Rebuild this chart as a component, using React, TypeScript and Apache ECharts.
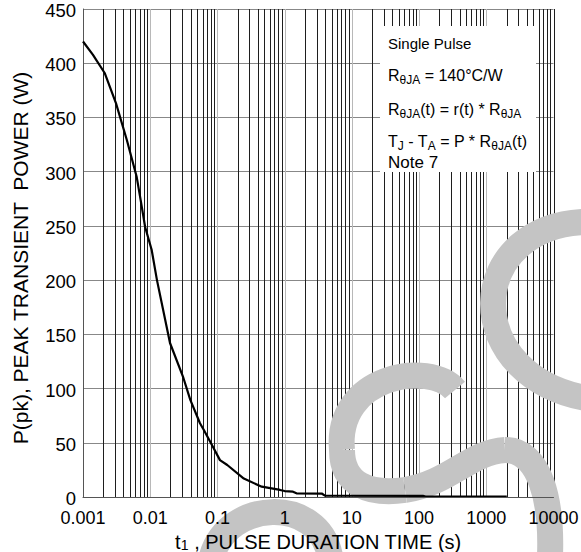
import React, { useEffect, useRef } from 'react';
import * as echarts from 'echarts';

// ---- data ----
const xTickValues = [0.001, 0.01, 0.1, 1, 10, 100, 1000, 10000];
const xTickLabels = ['0.001', '0.01', '0.1', '1', '10', '100', '1000', '10000'];
const yMin = 0;
const yMax = 450;
const yStep = 50;
const minorMultipliers = [2, 3, 4, 5, 6, 7, 8, 9];

const pulseTime = [
  0.001, 0.0014, 0.0021, 0.0031, 0.0045, 0.0063, 0.0072, 0.0084, 0.0105, 0.0126,
  0.0197, 0.0311, 0.0395, 0.055, 0.0625, 0.088, 0.109, 0.14, 0.247, 0.456,
  0.855, 1.0, 1.33, 1.5, 3.56, 3.97, 114, 125, 2020,
];
const peakPower = [
  420, 408, 391, 363, 329, 295, 274, 249, 228, 200,
  142, 110, 89.5, 68, 62, 45, 34, 29.5, 17, 9.5,
  6.5, 5.5, 4.9, 3.4, 3.2, 1.2, 1.0, 0.3, 0.3,
];

const legendLines = [
  '{h|Single Pulse}',
  '{b|R}{s|θJA}{b| = 140°C/W}',
  '{b|R}{s|θJA}{b|(t) = r(t) * R}{s|θJA}',
  '{b|T}{s|J}{b| - T}{s|A}{b| = P * R}{s|θJA}{b|(t)}',
  '{n|Note 7}',
];

const FONT = "'Liberation Sans', Arial, Helvetica, sans-serif";

export default function App() {
  const ref = useRef<HTMLDivElement>(null);

  useEffect(() => {
    document.body.style.margin = '0';
    if (!ref.current) return;
    const chart = echarts.init(ref.current, undefined, { renderer: 'svg' });

    // vertical grid lines: [value, kind] kind 1 = decade (light), 0 = minor/border (dark)
    const vLines: number[][] = [];
    for (let i = 0; i < xTickValues.length; i++) {
      const d = xTickValues[i];
      const isBorder = i === 0 || i === xTickValues.length - 1;
      if (!isBorder) vLines.push([d, 1]);
      else if (i === xTickValues.length - 1) vLines.push([d, 0]);
      if (i < xTickValues.length - 1) {
        minorMultipliers.forEach((m) => vLines.push([d * m, 0]));
      }
    }

    const curve = pulseTime.map((t, i) => [t, peakPower[i]]);

    const richLegend = {
      h: { fontSize: 15, lineHeight: 20, fontFamily: FONT, fill: '#000', color: '#000' },
      n: { fontSize: 17, lineHeight: 20, fontFamily: FONT, fill: '#000', color: '#000' },
      b: { fontSize: 16, lineHeight: 22, fontFamily: FONT, fill: '#000', color: '#000' },
      s: { fontSize: 12, lineHeight: 12, verticalAlign: 'bottom', fontFamily: FONT, fill: '#000', color: '#000' },
    };
    const legendY = [43, 75, 109, 141, 162];

    const wm = { stroke: '#c4c4c4', lineWidth: 26, fill: null, lineCap: 'butt' };

    chart.setOption({
      animation: false,
      backgroundColor: '#fff',
      grid: { left: 83, right: 27.5, top: 9, bottom: 55, outerBoundsMode: 'none', containLabel: false },
      xAxis: {
        type: 'log',
        logBase: 10,
        min: 0.001,
        max: 10000,
        z: 5,
        name: '{t|t}{s|1}{t| , PULSE DURATION TIME (s)}',
        nameLocation: 'middle',
        nameGap: 33,
        nameTextStyle: {
          rich: {
            t: { fontSize: 20, lineHeight: 20, fontFamily: FONT, color: '#000' },
            s: { fontSize: 14, lineHeight: 14, verticalAlign: 'bottom', fontFamily: FONT, color: '#000' },
          },
        },
        axisLine: { show: true, lineStyle: { color: '#555', width: 1 } },
        axisTick: { show: false },
        splitLine: { show: false },
        minorTick: { show: false },
        axisLabel: {
          fontSize: 18,
          fontFamily: FONT,
          color: '#000',
          margin: 12,
          showMinLabel: true,
          showMaxLabel: true,
          formatter: (v: number) => {
            const idx = xTickValues.findIndex((t) => Math.abs(Math.log10(t) - Math.log10(v)) < 1e-6);
            return idx >= 0 ? xTickLabels[idx] : '';
          },
        },
      },
      yAxis: {
        type: 'value',
        min: yMin,
        max: yMax,
        interval: yStep,
        name: 'P(pk), PEAK TRANSIENT  POWER (W)',
        nameLocation: 'middle',
        nameGap: 52,
        nameTextStyle: { fontSize: 21, fontFamily: FONT, color: '#000', padding: [0, 10, 0, 0] },
        axisLine: { show: true, lineStyle: { color: '#555', width: 1 } },
        axisTick: { show: false },
        splitLine: { show: true, lineStyle: { color: '#888', width: 1 } },
        axisLabel: {
          fontSize: 18.5,
          fontFamily: FONT,
          color: '#000',
          margin: 7,
          verticalAlign: 'top',
          lineHeight: 15,
          padding: [-6, 0, 0, 0],
        },
      },
      graphic: {
        elements: [
          { type: 'bezierCurve', z: 2, silent: true, shape: { x1: 600, y1: 222, cpx1: 460, cpy1: 215, cpx2: 455, cpy2: 385, x2: 600, y2: 400 }, style: wm },
          { type: 'bezierCurve', z: 2, silent: true, shape: { x1: 455, y1: 390, cpx1: 430, cpy1: 360, cpx2: 335, cpy2: 375, x2: 342, y2: 450 }, style: wm },
          { type: 'bezierCurve', z: 2, silent: true, shape: { x1: 342, y1: 450, cpx1: 342, cpy1: 485, cpx2: 370, cpy2: 495, x2: 405, y2: 490 }, style: wm },
          { type: 'bezierCurve', z: 2, silent: true, shape: { x1: 405, y1: 490, cpx1: 450, cpy1: 483, cpx2: 470, cpy2: 452, x2: 505, y2: 450 }, style: wm },
          { type: 'bezierCurve', z: 2, silent: true, shape: { x1: 505, y1: 450, cpx1: 540, cpy1: 450, cpx2: 552, cpy2: 500, x2: 550, y2: 556 }, style: wm },
          { type: 'bezierCurve', z: 2, silent: true, shape: { x1: 212, y1: 556, cpx1: 228, cpy1: 500, cpx2: 318, cpy2: 495, x2: 330, y2: 556 }, style: wm },
          { type: 'rect', z: 3, silent: true, shape: { x: 380, y: 26, width: 156, height: 146 }, style: { fill: '#fff' } },
          ...legendLines.map((txt, i) => ({
            type: 'text',
            z: 4,
            silent: true,
            style: {
              text: txt,
              x: 388,
              y: legendY[i],
              align: 'left',
              verticalAlign: 'middle',
              fill: '#000',
              fontFamily: FONT,
              rich: richLegend,
            },
          })),
        ],
      },
      series: [
        {
          type: 'custom',
          z: 1,
          silent: true,
          data: vLines,
          renderItem: (_params: any, api: any) => {
            const x = api.value(0);
            const kind = api.value(1);
            const p0 = api.coord([x, yMin]);
            const p1 = api.coord([x, yMax]);
            const px = Math.round(p0[0]) + 0.5;
            return {
              type: 'line',
              shape: { x1: px, y1: p0[1], x2: px, y2: p1[1] },
              style: { stroke: kind ? '#b8b8b8' : '#1e1e1e', lineWidth: 1 },
            };
          },
        },
        {
          type: 'line',
          z: 4,
          data: curve,
          showSymbol: false,
          symbol: 'none',
          smooth: false,
          lineStyle: { color: '#000', width: 2.2 },
        },
      ],
    });

    return () => chart.dispose();
  }, []);

  return <div ref={ref} style={{ width: 581, height: 552 }} />;
}
